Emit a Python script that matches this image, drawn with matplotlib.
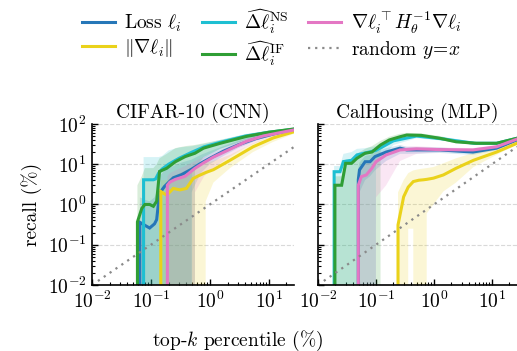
import numpy as np
import matplotlib
matplotlib.use("Agg")
import matplotlib.pyplot as plt
from matplotlib.lines import Line2D

plt.rcParams['font.family'] = 'serif'
plt.rcParams['font.serif'] = ['cmr10', 'DejaVu Serif']
plt.rcParams['mathtext.fontset'] = 'cm'
plt.rcParams['axes.formatter.use_mathtext'] = True
plt.rcParams['axes.unicode_minus'] = False

# ---------------------------------------------------------------------------
# data (recall in %, vs top-k percentile in %)
# ---------------------------------------------------------------------------

# CIFAR-10 (CNN)
cif_loss_x = [0.065, 0.065, 0.08, 0.095, 0.115, 0.125, 0.14, 0.17, 0.24, 0.33, 0.49, 0.7, 1.0, 1.7, 3.0, 6.0, 12, 27]
cif_loss_y = [0, 0.36, 0.3, 0.26, 0.33, 0.42, 1.9, 2.8, 4.6, 5.5, 7.5, 10.5, 14, 21, 30, 43, 56, 72]
cif_loss_lo = [0, 0, 0, 0, 0, 0, 0, 0, 0, 0, 2, 6, 10, 16, 25, 38, 52, 68]
cif_loss_hi = [1.5, 1.5, 1.3, 1.2, 1.5, 2, 5, 7, 9, 11, 13, 17, 21, 28, 38, 52, 63, 76]

cif_grad_x = [0.147, 0.147, 0.185, 0.24, 0.31, 0.40, 0.52, 0.65, 0.85, 1.15, 2.2, 5.4, 12, 27]
cif_grad_y = [0, 2.1, 1.7, 2.5, 2.3, 2.5, 4.4, 5.2, 6.2, 7.3, 12.5, 27, 45, 64]
cif_grad_lo = [0, 0, 0, 0, 0, 0, 0, 0, 1.2, 3.5, 8, 20, 36, 57]
cif_grad_hi = [4, 4, 4, 5, 6, 7, 9, 10, 11, 12, 17, 33, 52, 70]

cif_ns_x = [0.075, 0.075, 0.11, 0.12, 0.135, 0.155, 0.2, 0.3, 0.5, 0.8, 1.5, 4, 10, 27]
cif_ns_y = [0, 4.1, 4.1, 4.3, 6, 7.6, 10, 14, 20, 27, 35, 50, 62, 74]
cif_ns_lo = [0, 0, 0, 0, 0, 0, 0, 0, 8, 14, 24, 40, 55, 70]
cif_ns_hi = [15, 15, 15, 15, 15, 16, 22, 26, 28, 32, 40, 56, 68, 78]

cif_if_x = [0.059, 0.059, 0.07, 0.079, 0.095, 0.11, 0.125, 0.14, 0.185, 0.26, 0.38, 0.56, 0.78, 1.5, 4.2, 10, 27]
cif_if_y = [0, 0.37, 0.8, 1.0, 1.0, 0.9, 1.2, 6.6, 7.9, 11.5, 15.4, 18.7, 25, 33, 49, 62, 75]
cif_if_lo = [0, 0, 0, 0, 0, 0, 0, 0, 0, 0, 0, 8, 15, 24, 40, 55, 70]
cif_if_hi = [3, 3, 5, 8, 8, 8, 10, 14, 18, 25, 28, 30, 33, 40, 55, 68, 80]

cif_hinv_x = [0.19, 0.19, 0.21, 0.26, 0.38, 0.56, 0.8, 1.15, 2, 4.2, 8, 15, 27]
cif_hinv_y = [0, 3.0, 3.6, 4.2, 5.0, 7.9, 11, 15, 22, 37, 50, 60, 71]
cif_hinv_lo = [0, 0, 0, 0, 0, 2, 5, 8, 14, 27, 40, 52, 66]
cif_hinv_hi = [5, 5, 6, 7, 9, 12, 15, 19, 27, 44, 57, 66, 76]

# CalHousing (MLP)
cal_loss_x = [0.0496, 0.0496, 0.052, 0.065, 0.079, 0.096, 0.15, 0.26, 0.34, 1.26, 4.7, 12, 27]
cal_loss_y = [0, 4.1, 7.2, 11.5, 11.5, 15.4, 20, 25, 22.6, 22.6, 20, 25, 40]
cal_loss_lo = [0, 0, 2, 4, 5, 7, 12, 18, 18, 19, 17, 22, 37]
cal_loss_hi = [8, 8, 11, 16, 17, 20, 25, 30, 27, 26, 23, 28, 43]

cal_grad_x = [0.24, 0.24, 0.30, 0.36, 0.44, 0.55, 0.66, 0.75, 0.98, 1.45, 2.4, 4.8, 12, 27]
cal_grad_y = [0, 0.31, 1.55, 2.7, 3.7, 4.0, 4.1, 4.2, 4.5, 5.4, 7.9, 12.5, 20, 33]
cal_grad_lo = [0, 0, 0, 0.25, 0.25, 0, 0, 0.6, 1.0, 2.1, 3.5, 8.5, 17, 31]
cal_grad_hi = [2, 2, 4, 6, 7, 7.5, 7.8, 8, 8.5, 10.5, 14, 19, 25, 36]

cal_ns_x = [0.019, 0.019, 0.024, 0.0275, 0.038, 0.047, 0.065, 0.1, 0.2, 0.5, 1.5, 5, 12, 27]
cal_ns_y = [0, 6.5, 6.5, 11.6, 12.5, 17, 19, 22, 38, 50, 42, 33, 33, 44]
cal_ns_lo = [0, 0, 0, 0, 0, 0, 0, 10, 30, 44, 38, 30, 30, 40]
cal_ns_hi = [9, 9, 9, 18, 20, 24, 25, 28, 45, 56, 47, 36, 36, 47]

cal_if_x = [0.0196, 0.0196, 0.0256, 0.030, 0.038, 0.047, 0.065, 0.085, 0.12, 0.17, 0.26, 0.34, 0.6, 1.26, 2.4, 5.4, 12, 27]
cal_if_y = [0, 3.0, 3.0, 10.5, 10.5, 14, 18.7, 20, 30, 40, 48, 53, 52, 44, 36, 33, 33, 44]
cal_if_lo = [0, 0, 0, 0, 0, 0, 0, 0, 22, 33, 42, 48, 48, 40, 33, 30, 31, 42]
cal_if_hi = [5, 5, 5, 13, 13, 18, 24, 28, 38, 48, 57, 60, 58, 50, 40, 36, 35, 47]

cal_hinv_x = [0.0496, 0.0496, 0.056, 0.068, 0.085, 0.10, 0.15, 0.26, 0.5, 1.26, 4.7, 12, 27]
cal_hinv_y = [0, 3.0, 4.9, 5.4, 7.9, 11.5, 17, 22.6, 24, 23, 22.6, 27, 42]
cal_hinv_lo = [0, 0, 0, 0, 0, 1.5, 3, 12, 18, 20, 20, 24, 39]
cal_hinv_hi = [6, 6, 9, 10, 13, 17, 22, 27, 28, 26, 25, 30, 45]

rand_x = [0.01, 27]

titles = ["CIFAR-10 (CNN)", "CalHousing (MLP)"]
labels = [r"Loss $\ell_i$", r"$\|\nabla\ell_i\|$",
          r"$\widehat{\Delta\ell}_i^{\mathrm{NS}}$", r"$\widehat{\Delta\ell}_i^{\mathrm{IF}}$",
          r"$\nabla\ell_i^\top H_\theta^{-1}\nabla\ell_i$", r"random $y\!=\!x$"]
colors = ['#2677b8', '#ead21a', '#1ebfd2', '#2f9e35', '#e477c4']

panels = [
    [(cif_loss_x, cif_loss_y, cif_loss_lo, cif_loss_hi),
     (cif_grad_x, cif_grad_y, cif_grad_lo, cif_grad_hi),
     (cif_ns_x, cif_ns_y, cif_ns_lo, cif_ns_hi),
     (cif_if_x, cif_if_y, cif_if_lo, cif_if_hi),
     (cif_hinv_x, cif_hinv_y, cif_hinv_lo, cif_hinv_hi)],
    [(cal_loss_x, cal_loss_y, cal_loss_lo, cal_loss_hi),
     (cal_grad_x, cal_grad_y, cal_grad_lo, cal_grad_hi),
     (cal_ns_x, cal_ns_y, cal_ns_lo, cal_ns_hi),
     (cal_if_x, cal_if_y, cal_if_lo, cal_if_hi),
     (cal_hinv_x, cal_hinv_y, cal_hinv_lo, cal_hinv_hi)],
]

# ---------------------------------------------------------------------------
# figure
# ---------------------------------------------------------------------------
fig = plt.figure(figsize=(5.17, 3.51), dpi=100)
ax1 = fig.add_axes([0.178, 0.188, 0.391, 0.459])
ax2 = fig.add_axes([0.615, 0.188, 0.385, 0.459], sharey=ax1)

for ax, series, title in zip([ax1, ax2], panels, titles):
    ax.set_xscale('log')
    ax.set_yscale('log')
    for (x, y, lo, hi), c in zip(series, colors):
        ax.fill_between(x, lo, hi, color=c, alpha=0.18, linewidth=0)
    for (x, y, lo, hi), c in zip(series, colors):
        ax.plot(x, y, color=c, lw=2.2, solid_joinstyle='miter')
    ax.plot(rand_x, rand_x, color='#8a8a8a', lw=1.6, linestyle=(0, (1, 2.2)))
    ax.set_xlim(0.01, 27)
    ax.set_ylim(0.01, 100)
    ax.set_yticks([1e-2, 1e-1, 1e0, 1e1, 1e2])
    ax.set_xticks([1e-2, 1e-1, 1e0, 1e1])
    ax.grid(axis='y', which='major', linestyle='--', color='#d9d9d9', lw=0.8)
    ax.set_axisbelow(True)
    ax.spines['top'].set_visible(False)
    ax.spines['right'].set_visible(False)
    ax.spines['left'].set_linewidth(1.2)
    ax.spines['bottom'].set_linewidth(1.2)
    ax.tick_params(which='major', direction='in', length=4, width=1.0, labelsize=14, pad=4)
    ax.tick_params(which='minor', direction='in', length=2.2, width=0.8)
    ax.set_title(title, fontsize=14, pad=4)

ax2.tick_params(axis='y', which='both', labelleft=False)
ax1.set_ylabel("recall (%)", fontsize=14, labelpad=4)
fig.text(0.46, 0.03, r"top-$k$ percentile (%)", fontsize=14, ha='center', va='center')

handles = [Line2D([], [], color=c, lw=2.2) for c in colors]
handles.append(Line2D([], [], color='#8a8a8a', lw=1.6, linestyle=(0, (1, 2.2))))
fig.legend(handles, labels, ncol=3,
           loc='upper center', bbox_to_anchor=(0.525, 1.03), frameon=False,
           fontsize=14, handlelength=1.7, handletextpad=0.5, columnspacing=1.0,
           labelspacing=0.15)

fig.savefig("out.png", dpi=100)
